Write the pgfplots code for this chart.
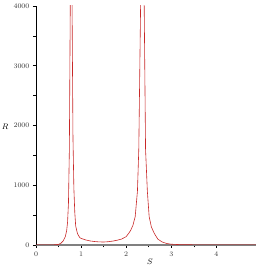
\documentclass[border=0pt]{standalone}
\usepackage{pgfplots}
\pgfplotsset{compat=1.18}
\begin{document}
\begin{tikzpicture}[x=1pt,y=1pt]
\useasboundingbox (0,0) rectangle (256,272);
\begin{axis}[
  at={(36pt,27pt)}, anchor=origin,
  scale only axis, width=220pt, height=239pt,
  xmin=0, xmax=4.88, ymin=0, ymax=4000,
  axis lines=left,
  x axis line style={-, gray, line width=1.3pt},
  y axis line style={-, black, line width=0.6pt},
  xtick={0,1,2,3,4}, ytick={0,1000,2000,3000,4000},
  minor x tick num=1, minor y tick num=1,
  tick align=outside, major tick length=3pt, minor tick length=2.5pt,
  tick style={black, line width=0.5pt},
  ticklabel style={font=\fontsize{7.5}{8}\selectfont, text=black!80},
  scaled y ticks=false,
  yticklabel style={/pgf/number format/1000 sep={}},
  xlabel={$S$}, ylabel={$R$},
  xlabel style={at={(axis description cs:0.518,-0.071)}, anchor=center, font=\fontsize{8}{9}\selectfont},
  ylabel style={at={(axis description cs:-0.14,0.494)}, rotate=-90, anchor=center, font=\fontsize{8}{9}\selectfont},
  clip=true,
]
\addplot[color={rgb,255:red,200;green,40;blue,40}, line width=0.6pt, no markers] table {
x y
0 0
0.2 0
0.3 1
0.4 3
0.5 10
0.55 28
0.6 65
0.65 140
0.68 240
0.70 380
0.72 700
0.74 1600
0.76 4000
0.78 12000
0.80 4000
0.82 1800
0.84 950
0.86 550
0.88 320
0.92 190
0.97 125
1.0 110
1.1 85
1.2 68
1.3 58
1.4 52
1.5 50
1.6 55
1.7 65
1.8 80
1.9 100
2.0 140
2.06 200
2.1 245
2.15 330
2.2 474
2.25 900
2.28 1600
2.32 4000
2.36 12000
2.40 4000
2.43 1600
2.47 900
2.51 474
2.56 300
2.62 200
2.7 100
2.8 50
2.9 25
3.0 13
3.2 6
3.5 3
4.0 1
4.88 0.5
};
\end{axis}
\end{tikzpicture}
\end{document}
